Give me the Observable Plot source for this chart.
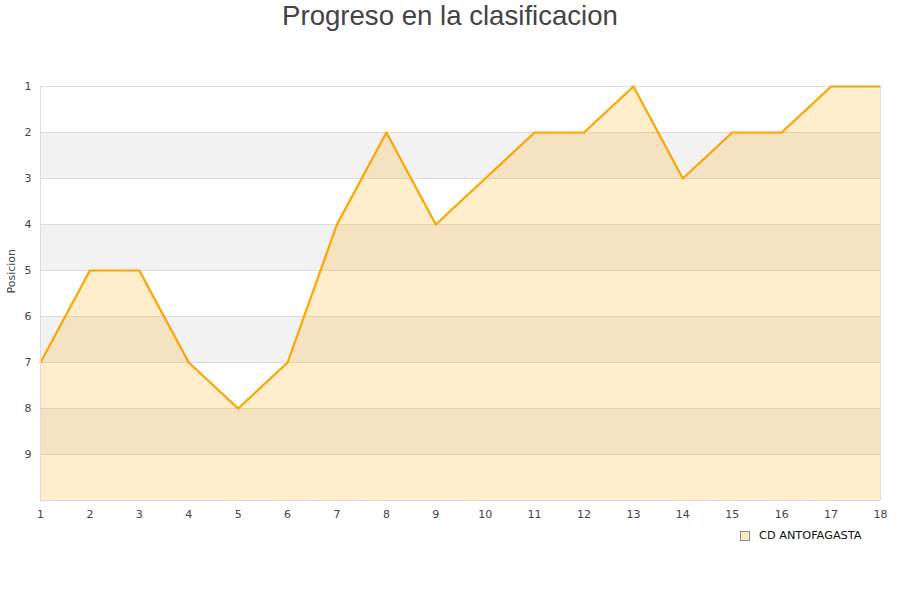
<!DOCTYPE html>
<html>
<head>
<meta charset="utf-8">
<script src="https://cdn.jsdelivr.net/npm/d3@7"></script>
<script src="https://cdn.jsdelivr.net/npm/@observablehq/plot@0.6"></script>
<style>
  body { margin: 0; background: #fff; }
  #wrap { position: relative; width: 900px; height: 600px; }
  #title { position: absolute; left: 0; top: 0; width: 900px; text-align: center;
    font-family: "Liberation Sans", Arial, sans-serif; font-size: 27.6px; color: #444; line-height: 32px; }
  #legend { position: absolute; left: 740px; top: 529px; font-family: "DejaVu Sans", sans-serif;
    font-size: 11.3px; color: #111; display: flex; align-items: center; }
  #legend .sw { width: 8px; height: 8px; background: #fde9c4; border: 1px solid #8a8a8a; margin-right: 9px; }
  #chart { position: absolute; left: 0; top: 0; }
</style>
</head>
<body>
<div id="wrap">
  <div id="chart"></div>
  <div id="title">Progreso en la clasificacion</div>
  <div id="legend"><span class="sw"></span><span>CD ANTOFAGASTA</span></div>
</div>
<script>
const jornadas = [1,2,3,4,5,6,7,8,9,10,11,12,13,14,15,16,17,18];
const posiciones = [7,5,5,7,8,7,4,2,4,3,2,2,1,3,2,2,1,1];
const yTicks = [1,2,3,4,5,6,7,8,9];
const bandasGrises = [[2,3],[4,5],[6,7],[8,9]];
const yLabel = "Posicion";

const data = jornadas.map((j, i) => ({j, p: posiciones[i]}));
const bands = bandasGrises.map(([a, b]) => ({a, b}));

const chart = Plot.plot({
  width: 900,
  height: 600,
  marginTop: 86,
  marginBottom: 100,
  marginLeft: 40,
  marginRight: 20,
  style: {fontFamily: "'DejaVu Sans', sans-serif", fontSize: "11px", color: "#444", background: "transparent"},
  x: {domain: [1, 18], label: null},
  y: {domain: [1, 10], reverse: true, label: null},
  marks: [
    Plot.rectY(bands, {y1: "a", y2: "b", x1: 1, x2: 18, fill: "#f2f2f2"}),
    Plot.ruleY(yTicks, {stroke: "#dddddd", strokeWidth: 1}),
    Plot.areaY(data, {x: "j", y1: 10, y2: "p", fill: "#ffa500", fillOpacity: 0.2}),
    Plot.line(data, {x: "j", y: "p", stroke: "#ffa500", strokeWidth: 2.2}),
    Plot.ruleX([1, 18], {stroke: "#dddddd"}),
    Plot.ruleY([10], {stroke: "#dddddd"}),
    Plot.axisX(jornadas, {tickSize: 0, tickPadding: 10, fill: "#444"}),
    Plot.axisY(yTicks, {tickSize: 0, tickPadding: 9, fill: "#444", label: null}),
    Plot.text([yLabel], {frameAnchor: "left", dx: -29, rotate: -90, fill: "#444", fontSize: 11})
  ]
});
document.getElementById("chart").appendChild(chart);
</script>
</body>
</html>
